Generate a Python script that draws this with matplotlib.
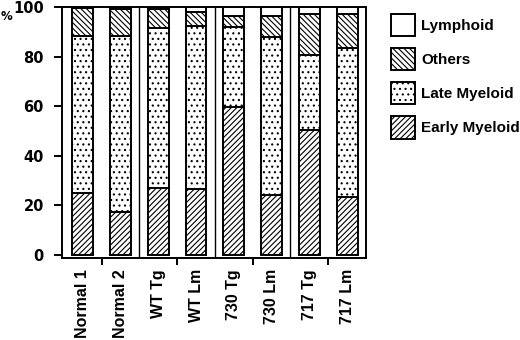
import matplotlib
matplotlib.use("Agg")
import matplotlib.pyplot as plt
from matplotlib.patches import Patch

plt.rcParams['font.family'] = ['Liberation Sans', 'DejaVu Sans']
plt.rcParams['font.weight'] = 'bold'
plt.rcParams['hatch.linewidth'] = 0.8

# values (percent)
groups = ["Normal 1", "Normal 2", "WT Tg", "WT Lm", "730 Tg", "730 Lm", "717 Tg", "717 Lm"]
early_myeloid = [25, 17.5, 27, 26.5, 59.5, 24, 50.5, 23.5]
late_myeloid = [63.5, 71, 64.5, 66, 32.5, 64, 30, 60]
others = [11, 10.5, 7.5, 5.5, 4.5, 8.5, 16.5, 13.5]
lymphoid = [0.5, 1, 1, 2, 3.5, 3.5, 3, 3]
yticks = [0, 20, 40, 60, 80, 100]

fig = plt.figure(figsize=(5.2, 3.4), dpi=100)
# y=0 sits at 255 px, bottom spine a little lower at 258 px
ax = fig.add_axes([62 / 520, 1 - 258 / 340, (366 - 62) / 520, (258 - 7) / 340])

x = list(range(len(groups)))
w = 0.55
kw = dict(width=w, color='white', edgecolor='black', linewidth=1.4)

ax.bar(x, early_myeloid, hatch='//////', **kw)
bot = list(early_myeloid)
ax.bar(x, late_myeloid, bottom=bot, hatch='...', **kw)
bot = [a + b for a, b in zip(bot, late_myeloid)]
ax.bar(x, others, bottom=bot, hatch='\\\\\\\\\\\\', **kw)
bot = [a + b for a, b in zip(bot, others)]
ax.bar(x, lymphoid, bottom=bot, **kw)

# separators between the pairs
for sep in [1.5, 3.5, 5.5]:
    ax.axvline(sep, color='black', linewidth=1)

ax.set_xlim(-0.55, 7.5)
ax.set_ylim(-1.2, 100)
ax.set_yticks(yticks)
ax.set_yticklabels([str(v) for v in yticks], fontsize=10.5, fontweight='bold',
                   family=['DejaVu Sans'])
ax.tick_params(axis='y', direction='out', length=6, width=1.4, pad=7)

ax.set_xticks(x)
ax.set_xticklabels(groups, rotation=90, fontsize=11.5, fontweight='bold')
ax.tick_params(axis='x', which='major', length=0, pad=8)
ax.set_xticks([0.5, 2.5, 4.5, 6.5], minor=True)
ax.tick_params(axis='x', which='minor', direction='out', length=5, width=1.4)

for s in ax.spines.values():
    s.set_linewidth(1.4)

fig.text(1 / 520, 1 - 20 / 340, "%", fontsize=8.5, fontweight='bold', family=['DejaVu Sans'])

handles = [
    Patch(facecolor='white', edgecolor='black', linewidth=1.4, label='Lymphoid'),
    Patch(facecolor='white', edgecolor='black', linewidth=1.4, hatch='\\\\\\\\\\\\', label='Others'),
    Patch(facecolor='white', edgecolor='black', linewidth=1.4, hatch='...', label='Late Myeloid'),
    Patch(facecolor='white', edgecolor='black', linewidth=1.4, hatch='//////', label='Early Myeloid'),
]
fig.legend(handles=handles, loc='upper left', bbox_to_anchor=(380 / 520, 1 - 3 / 340),
           frameon=False, fontsize=11, handlelength=1.6, handleheight=1.9,
           labelspacing=0.75, handletextpad=0.4, borderpad=0.2)

fig.savefig("out.png", dpi=100)
